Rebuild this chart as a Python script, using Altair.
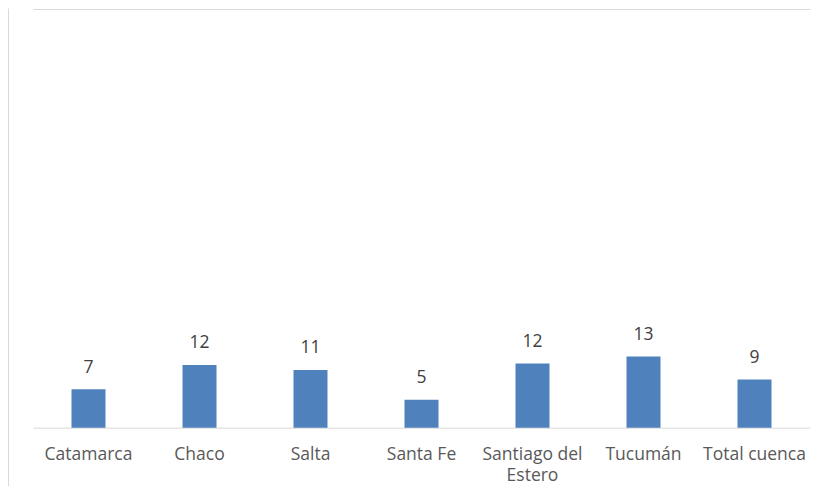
import altair as alt
import pandas as pd

categories = ["Catamarca", "Chaco", "Salta", "Santa Fe", "Santiago del Estero", "Tucumán", "Total cuenca"]
values = [7.2, 11.7, 10.8, 5.2, 12.0, 13.3, 9.0]

df = pd.DataFrame({"cat": categories, "val": values})

W, H = 811, 478
Y_DOMAIN = [-10.90, 78.45]
TOP_LINE = 78.26
FONT = "Open Sans"
GRID = "#d9d9d9"

x = alt.X(
    "cat:N",
    sort=categories,
    scale=alt.Scale(range=[25, 802], paddingInner=0, paddingOuter=0),
    axis=alt.Axis(
        title=None,
        offset=-58.3,
        domainColor=GRID,
        domainWidth=1,
        ticks=False,
        tickSize=0,
        labelAngle=0,
        labelFont=FONT,
        labelFontSize=17.5,
        labelColor="#595959",
        labelPadding=18,
        labelLineHeight=21,
        labelExpr="datum.value == 'Santiago del Estero' ? ['Santiago del', 'Estero'] : datum.value",
    ),
)

y = alt.Y(
    "val:Q",
    scale=alt.Scale(domain=Y_DOMAIN, nice=False, zero=False),
    axis=alt.Axis(
        title=None,
        labels=False,
        ticks=False,
        domain=True,
        domainColor=GRID,
        grid=True,
        gridColor=GRID,
        gridWidth=1,
        values=[TOP_LINE],
    ),
)

bars = alt.Chart(df).mark_bar(size=34, color="#4f81bd").encode(
    x=x, y=y, y2=alt.datum(0)
)

labels = alt.Chart(df).mark_text(
    dy=-16.6, baseline="alphabetic", font=FONT, fontSize=17.5, color="#404040"
).encode(x=x, y=y, text=alt.Text("val:Q", format=".0f"))

chart = (
    alt.layer(bars, labels)
    .properties(width=W, height=H, padding=0, autosize="none", background="white")
    .configure_view(stroke=None)
)

chart.save("out.html", embed_options={"renderer": "svg", "actions": False})
